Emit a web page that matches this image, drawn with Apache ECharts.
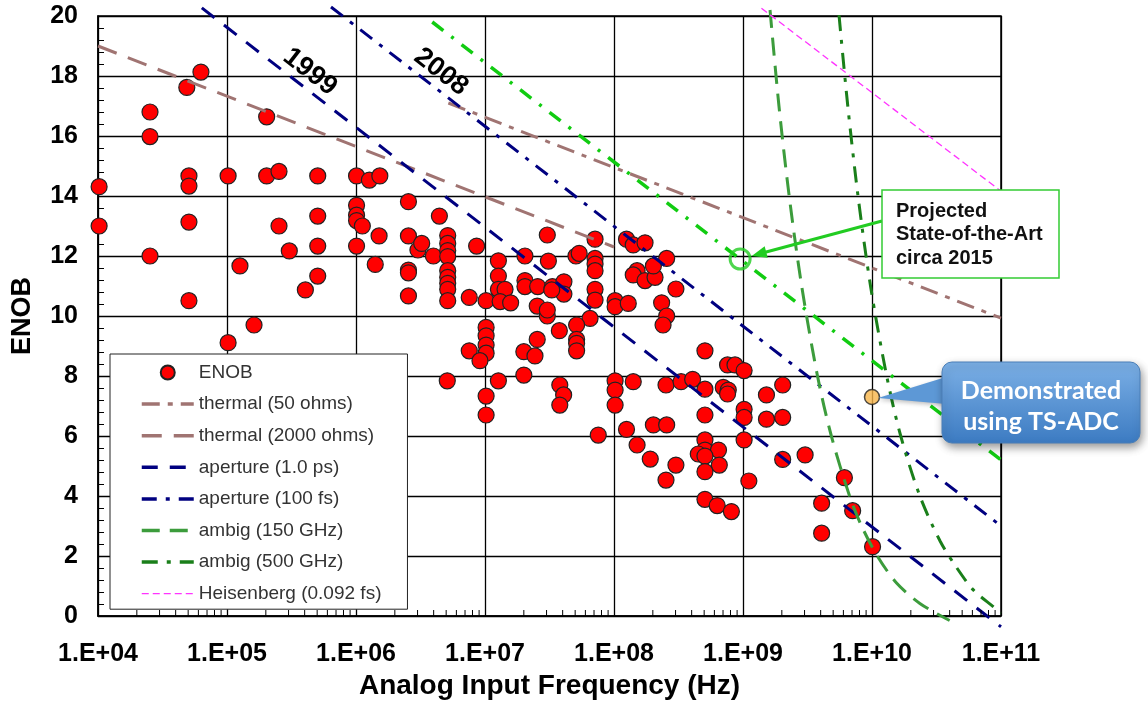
<!DOCTYPE html>
<html><head><meta charset="utf-8">
<script src="https://cdn.jsdelivr.net/npm/echarts@6/dist/echarts.min.js"></script>
<style>html,body{margin:0;padding:0;background:#fff}#c{width:1148px;height:715px}</style>
</head><body><div id="c"></div>
<script>
const FF = 'Arial, "Liberation Sans", Helvetica, sans-serif';

// ---- tick labels ----
const xTickLabels = ['1.E+04','1.E+05','1.E+06','1.E+07','1.E+08','1.E+09','1.E+10','1.E+11'];
const yTickLabels = ['0','2','4','6','8','10','12','14','16','18','20'];
const minorMantissas = [2,3,4,5,6,7,8,9];
const minorDecades = [1e4,1e5,1e6,1e7,1e8,1e9,1e10];

// ---- series names ----
const seriesNames = ['ENOB','thermal (50 ohms)','thermal (2000 ohms)','aperture (1.0 ps)','aperture (100 fs)','ambig (150 GHz)','ambig (500 GHz)','Heisenberg (0.092 fs)'];

// ---- measured ADCs: [frequency (Hz), ENOB] ----
const enobPoints = [
 [6.28e4,18.13],[4.88e4,17.62],[2.53e4,16.8],[2.53e4,15.98],[2.03e5,16.64],
 [1.02e4,14.31],[1.02e4,13.0],[5.07e4,14.67],[5.07e4,14.33],[5.07e4,13.13],
 [2.53e4,12.0],[5.07e4,10.51],[1.02e5,14.67],[1.02e5,9.11],[1.62e5,9.7],
 [1.26e5,11.67],[2.03e5,14.67],[2.53e5,14.82],[2.53e5,13.0],[3.04e5,12.17],
 [5.05e5,14.67],[5.05e5,13.33],[5.05e5,12.33],[5.05e5,11.33],[4.05e5,10.87],
 [1.01e6,14.67],[1.27e6,14.53],[1.53e6,14.67],[1.01e6,13.69],[1.01e6,13.36],
 [1.01e6,13.18],[1.12e6,13.0],[1.01e6,12.33],[1.51e6,12.67],[1.41e6,11.72],
 [2.55e6,13.81],[2.55e6,12.67],[3.02e6,12.2],[2.55e6,11.53],[2.55e6,11.44],
 [2.55e6,10.67],[4.43e6,13.33],[3.23e6,12.42],[3.98e6,12.0],[5.14e6,12.68],
 [5.14e6,12.42],[5.14e6,12.18],[5.14e6,11.98],[8.61e6,12.33],[5.14e6,11.51],
 [5.14e6,11.29],[5.14e6,11.09],[5.14e6,10.89],[5.14e6,10.51],[7.55e6,10.62],
 [1.02e7,10.51],[1.27e7,11.84],[1.27e7,11.33],[1.27e7,10.89],[1.43e7,10.89],
 [1.31e7,10.48],[1.58e7,10.44],[2.04e7,12.0],[2.04e7,11.18],[2.04e7,10.98],
 [2.56e7,10.98],[3.1e7,11.83],[3.04e7,12.7],[3.33e7,10.98],[4.09e7,11.14],
 [4.09e7,10.73],[3.29e7,10.87],[2.54e7,10.33],[3.04e7,10.0],[3.04e7,10.2],
 [5.07e7,12.0],[5.37e7,12.09],[7.13e7,12.56],[7.13e7,11.92],[7.13e7,11.73],
 [7.13e7,11.51],[7.13e7,10.89],[7.13e7,10.53],[6.52e7,9.92],[5.13e7,9.7],
 [5.13e7,9.22],[5.13e7,9.09],[5.13e7,8.84],[3.77e7,9.51],[2.54e7,9.22],
 [2.0e7,8.81],[2.44e7,8.67],[1.02e7,9.62],[1.02e7,9.34],[1.02e7,9.03],
 [1.02e7,8.76],[7.55e6,8.84],[9.14e6,8.51],[5.1e6,7.84],[1.02e7,7.33],
 [1.02e7,6.7],[1.27e7,7.84],[2.0e7,8.03],[3.8e7,7.7],[4.07e7,7.37],
 [3.8e7,7.03],[1.02e8,10.51],[1.02e8,10.31],[1.29e8,10.42],[1.25e8,12.56],
 [1.41e8,12.37],[1.74e8,12.44],[1.51e8,11.51],[1.41e8,11.37],[1.74e8,11.18],
 [2.08e8,11.29],[2.02e8,11.67],[2.56e8,11.92],[3.02e8,10.9],[2.34e8,10.44],
 [2.56e8,10.0],[2.4e8,9.7],[1.02e8,7.84],[1.02e8,7.53],[1.02e8,7.03],
 [1.41e8,7.81],[2.53e8,7.7],[3.31e8,7.81],[4.07e8,7.89],[7.55e7,6.03],
 [1.25e8,6.22],[2.02e8,6.37],[2.56e8,6.37],[1.51e8,5.7],[1.91e8,5.23],
 [5.07e8,8.84],[7.59e8,8.37],[8.67e8,8.37],[1.02e9,8.18],[5.07e8,7.56],
 [7.03e8,7.62],[7.69e8,7.53],[7.59e8,7.4],[5.07e8,6.7],[1.02e9,6.89],
 [1.02e9,6.62],[1.52e9,7.37],[2.03e9,7.7],[1.52e9,6.56],[2.03e9,6.62],
 [3.02e8,5.03],[2.53e8,4.53],[5.07e8,5.87],[5.07e8,5.53],[4.5e8,5.4],
 [6.46e8,5.53],[5.07e8,5.33],[6.55e8,5.03],[5.07e8,4.81],[1.02e9,5.87],
 [1.11e9,4.5],[5.07e8,3.89],[6.31e8,3.68],[8.13e8,3.48],[2.03e9,5.22],
 [3.03e9,5.37],[6.11e9,4.61],[4.07e9,3.76],[7.08e9,3.51],[4.07e9,2.76],
 [1.01e10,2.31]
];

// ---- limit lines: [frequency (Hz), ENOB] ----
const thermal50   = [[5.2e6,17.1],[1e11,9.93]];
const thermal2000 = [[1e4,19.0],[1e8,12.3]];
const aperture1ps = [[6.38e4,20.27],[1e11,-0.36]];
const aperture100fs = [[6.4e5,20.3],[1e11,3.0]];
const projectedTrend = [[3.9e6,19.8],[1e11,5.2]];
const heisenberg = [[1.39e9,20.26],[1e11,14.16]];
const ambig150 = [[1.62e9,20.2],[1.9e9,17.0],[2.28e9,14.0],[2.85e9,11.0],[3.78e9,8.0],[4.84e9,6.0],[6.7e9,4.0],[8.3e9,3.0],[1.1e10,2.0],[1.55e10,1.1],[2.35e10,0.42],[4.0e10,-0.15]];
const ambig500 = [[5.55e9,20.03],[6.49e9,17.0],[7.79e9,14.0],[9.74e9,11.0],[1.3e10,8.0],[1.67e10,6.0],[2.35e10,4.0],[3.37e10,2.5],[4.55e10,1.6],[6.1e10,0.87],[8.7e10,0.31],[1e11,0.1]];
const projectedPoint = [[9.5e8,11.9]];
const demoPoint = [[1e10,7.3]];

const xMinorTicks = [];
minorDecades.forEach(d => minorMantissas.forEach(m => xMinorTicks.push([m*d, 0])));

function lineSeries(name, data, color, width, dash, extra) {
  return Object.assign({
    name, type:'line', data, symbol:'none', clip:false, silent:true,
    lineStyle:{color, width, type:dash, cap:'butt'},
    itemStyle:{color}, z:3
  }, extra || {});
}

const legendData = seriesNames.map(n => n === 'ENOB'
  ? {name:n}
  : (n.indexOf('Heisenberg') === 0
     ? {name:n, itemStyle:{opacity:0}, lineStyle:{width:1.3}}
     : {name:n, itemStyle:{opacity:0}, lineStyle:{width:3.5}}));

const option = {
  animation:false,
  backgroundColor:'#fff',
  textStyle:{fontFamily:FF},
  grid:{left:98,right:147,top:16,bottom:99,show:true,borderColor:'#000',borderWidth:1.5,backgroundColor:'transparent',containLabel:false,outerBoundsMode:'none'},
  xAxis:{
    type:'log', logBase:10, min:1e4, max:1e11, splitNumber:7,
    name:'Analog Input Frequency (Hz)', nameLocation:'middle', nameGap:50,
    nameTextStyle:{fontSize:28,fontWeight:'bold',color:'#000',fontFamily:FF},
    axisLine:{show:true,lineStyle:{color:'#000',width:1.5}},
    axisTick:{show:false},
    minorTick:{show:false},
    axisLabel:{fontSize:25,fontWeight:'bold',color:'#000',margin:26,fontFamily:FF,
      formatter:v=>xTickLabels[Math.round(Math.log10(v))-4]},
    splitLine:{show:true,lineStyle:{color:'#000',width:1.3}}
  },
  yAxis:{
    type:'value', min:0, max:20, interval:2,
    name:'ENOB', nameLocation:'middle', nameGap:62,
    nameTextStyle:{fontSize:27,fontWeight:'bold',color:'#000',fontFamily:FF},
    axisLine:{show:true,lineStyle:{color:'#000',width:1.5}},
    axisTick:{show:true,inside:true,length:6,lineStyle:{color:'#000',width:1}},
    minorTick:{show:true,splitNumber:5,length:6,lineStyle:{color:'#000',width:1}},
    axisLabel:{fontSize:25,fontWeight:'bold',color:'#000',margin:20,fontFamily:FF,
      formatter:v=>yTickLabels[Math.round(v/2)]},
    splitLine:{show:true,lineStyle:{color:'#000',width:1.3}}
  },
  legend:{
    data:legendData, orient:'vertical', left:110, top:354,
    itemWidth:52, itemHeight:14, itemGap:12.6,
    padding:[9,26,6,30],
    backgroundColor:'#fff', borderColor:'#222', borderWidth:1, borderRadius:0,
    textStyle:{fontSize:19,color:'#333',fontFamily:FF},
    lineStyle:{width:3.5},
    selectedMode:false, z:10
  },
  series:[
    {name:'ENOB', type:'scatter', data:enobPoints, symbol:'circle', symbolSize:16,
     itemStyle:{color:'#ff0000',borderColor:'#222',borderWidth:1.2,opacity:1}, z:2, silent:true},
    lineSeries('thermal (50 ohms)', thermal50, '#a07472', 3, [18,8,5,8]),
    lineSeries('thermal (2000 ohms)', thermal2000, '#a07472', 3, [20,12]),
    lineSeries('aperture (1.0 ps)', aperture1ps, '#000080', 3, [16,12]),
    lineSeries('aperture (100 fs)', aperture100fs, '#000080', 3, [15,9,4,9]),
    lineSeries('ambig (150 GHz)', ambig150, '#3c9c3c', 3, [18,10], {smooth:0.3}),
    lineSeries('ambig (500 GHz)', ambig500, '#1a7f1a', 3, [16,9,4,9], {smooth:0.3}),
    lineSeries('Heisenberg (0.092 fs)', heisenberg, '#ff33ff', 1.3, [7,4]),
    lineSeries('projected', projectedTrend, '#11cc11', 3.5, [14,10,3,10]),
    {name:'projected point', type:'scatter', data:projectedPoint, symbol:'circle', symbolSize:20,
     itemStyle:{color:'rgba(0,0,0,0)',borderColor:'#22cc22',borderWidth:3}, z:6, silent:true},
    {name:'TS-ADC', type:'scatter', data:demoPoint, symbol:'circle', symbolSize:15,
     itemStyle:{color:'#f8b54a',borderColor:'#222',borderWidth:1.5}, z:6, silent:true},
    {name:'minor ticks', type:'custom', data:xMinorTicks, silent:true, clip:false, z:5,
     renderItem:(params, api)=>{
       const p = api.coord([api.value(0), 0]);
       return {type:'line', shape:{x1:p[0],y1:p[1],x2:p[0],y2:p[1]-6}, style:{stroke:'#000',lineWidth:1}};
     }}
  ]
};

const chart = echarts.init(document.getElementById('c'), null, {renderer:'canvas'});
chart.setOption(option);

const cp = chart.convertToPixel({gridIndex:0}, projectedPoint[0]);
const dp = chart.convertToPixel({gridIndex:0}, demoPoint[0]);

// arrow from projected box to circle
const S = [882, 221];
let dx = cp[0]-S[0], dy = cp[1]-S[1];
const L = Math.hypot(dx,dy); dx/=L; dy/=L;
const T = [cp[0]-dx*12, cp[1]-dy*12];
const px = -dy, py = dx;
const H = 15, W = 6;
const B = [T[0]-dx*H, T[1]-dy*H];

chart.setOption({
  graphic:[
    {type:'text', x:310, y:72, rotation:-0.66, z:50, silent:true,
     style:{text:'1999', fontSize:27, fontWeight:'bold', fontFamily:FF, fill:'#000', align:'center', verticalAlign:'middle'}},
    {type:'text', x:441, y:72, rotation:-0.66, z:50, silent:true,
     style:{text:'2008', fontSize:27, fontWeight:'bold', fontFamily:FF, fill:'#000', align:'center', verticalAlign:'middle'}},
    {type:'line', z:50, silent:true, shape:{x1:S[0],y1:S[1],x2:B[0]+dx*2,y2:B[1]+dy*2},
     style:{stroke:'#22cc22', lineWidth:3}},
    {type:'polygon', z:50, silent:true,
     shape:{points:[T,[B[0]+px*W,B[1]+py*W],[B[0]-px*W,B[1]-py*W]]},
     style:{fill:'#22cc22'}},
    {type:'rect', z:50, silent:true, shape:{x:882,y:190,width:177,height:88},
     style:{fill:'#fff', stroke:'#33cc33', lineWidth:1.5}},
    {type:'text', x:896, y:200, z:51, silent:true,
     style:{text:'Projected\nState-of-the-Art\ncirca 2015', fontSize:20, fontWeight:'bold', fontFamily:FF, fill:'#111', lineHeight:23.3, verticalAlign:'top', align:'left'}},
    {type:'polygon', z:50, silent:true,
     shape:{points:[[946,377],[946,404],[dp[0]+6,dp[1]+1]]},
     style:{fill:'#5d98d6', shadowBlur:4, shadowColor:'rgba(0,0,0,0.25)', shadowOffsetY:2}},
    {type:'rect', z:51, silent:true, shape:{x:942,y:362,width:198,height:81,r:10},
     style:{fill:new echarts.graphic.LinearGradient(0,0,0,1,[{offset:0,color:'#7cb0e6'},{offset:1,color:'#3c7bc2'}]),
            stroke:'#4a7fb8', lineWidth:1, shadowBlur:8, shadowOffsetX:2, shadowOffsetY:4, shadowColor:'rgba(0,0,0,0.4)'}},
    {type:'text', x:1041, y:406, z:52, silent:true,
     style:{text:'Demonstrated\nusing TS-ADC', fontSize:25, fontWeight:'bold', fontFamily:'Lato, "Open Sans", sans-serif', fill:'#fff', lineHeight:31, align:'center', verticalAlign:'middle'}}
  ]
});
</script>
</body></html>
